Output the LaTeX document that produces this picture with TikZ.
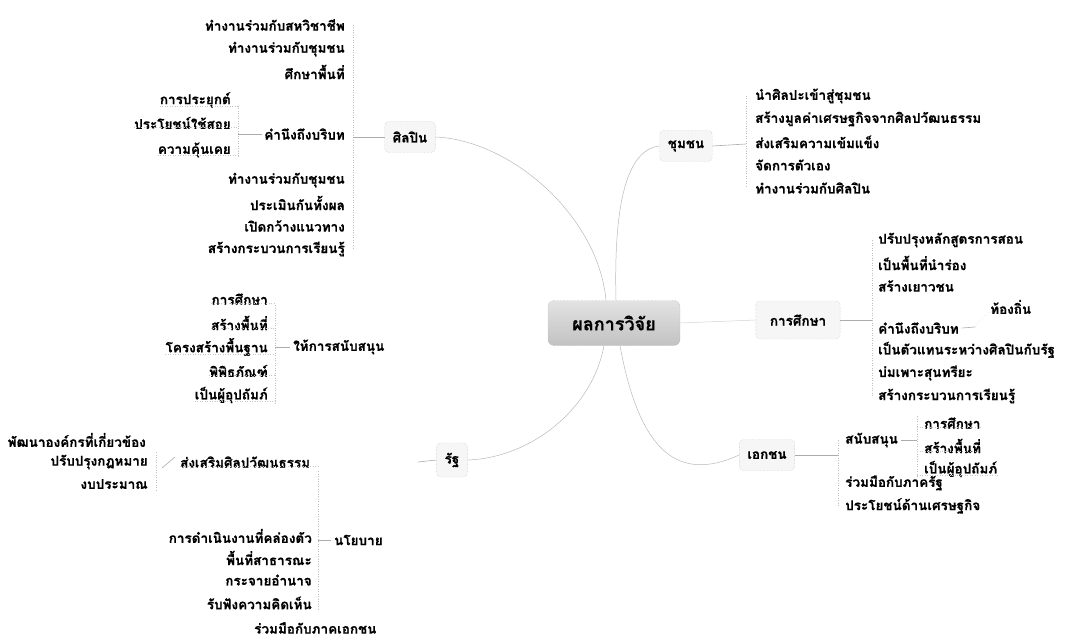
\documentclass[tikz,border=0pt]{standalone}
\usepackage{fontspec}
\newfontfamily\thaifont[Script=Thai,BoldFeatures={FakeBold=0.6}]{Loma}
\begin{document}
\begin{tikzpicture}[x=1pt,y=-1pt,
  leaf/.style={font=\thaifont\bfseries\fontsize{13.5}{15}\selectfont, inner sep=0pt, text=black},
  brbox/.style={font=\thaifont\bfseries\fontsize{13.5}{15}\selectfont, draw=gray!55, densely dotted, rounded corners=4pt, fill=gray!7, minimum height=31pt, inner xsep=8pt},
  centerbox/.style={font=\thaifont\bfseries\fontsize{18}{20}\selectfont, draw=gray!70, densely dotted, rounded corners=6pt, top color=gray!22, bottom color=gray!48, minimum width=132pt, minimum height=45pt},
  conn/.style={draw=gray!55, line width=0.5pt},
  spine/.style={draw=gray!50, dotted, line width=0.5pt},
  uline/.style={draw=gray!45, dotted, line width=0.5pt},
  tick/.style={draw=gray!65, line width=0.6pt}]
\useasboundingbox (0,0) rectangle (1076,639);

% centre
\node[centerbox] (c) at (614,323) {ผลการวิจัย};

% main branch boxes
\node[brbox] (b1) at (410,137) {ศิลปิน};
\node[brbox] (b2) at (686,146) {ชุมชน};
\node[brbox, minimum height=38pt, inner xsep=14pt] (b3) at (798,320) {การศึกษา};
\node[brbox] (b4) at (767,455) {เอกชน};
\node[brbox, minimum height=34pt] (b5) at (452,460) {รัฐ};

% curves from centre
\draw[conn] (c.north) ++(-8,0) coordinate (c1) (c1) .. controls (598,215) and (510,140) .. (b1.east);
\draw[conn] (c.north) ++(2,0) coordinate (c2) (c2) .. controls (614,220) and (622,150) .. (b2.west);
\draw[conn, draw=gray!35] (c.east) -- (b3.west);
\draw[conn] (c.south) ++(-10,0) coordinate (c3) (c3) .. controls (592,410) and (530,458) .. (b5.east);
\draw[conn] (c.south) ++(6,0) coordinate (c4) (c4) .. controls (640,455) and (680,482) .. (b4.west);

% ---------- ศิลปิน ----------
\node[leaf,anchor=east] (a1) at (345,25) {ทำงานร่วมกับสหวิชาชีพ};
\node[leaf,anchor=east] (a2) at (345,49) {ทำงานร่วมกับชุมชน};
\node[leaf,anchor=east] (a3) at (345,72) {ศึกษาพื้นที่};
\node[leaf,anchor=east] (a4) at (345,134) {คำนึงถึงบริบท};
\node[leaf,anchor=east] (a5) at (345,180) {ทำงานร่วมกับชุมชน};
\node[leaf,anchor=east] (a6) at (345,203) {ประเมินกันทั้งผล};
\node[leaf,anchor=east] (a7) at (345,226) {เปิดกว้างแนวทาง};
\node[leaf,anchor=east] (a8) at (345,249) {สร้างกระบวนการเรียนรู้};
\coordinate (sa1) at (353,25);
\coordinate (sa2) at (353,249);
\coordinate (sa0) at (353,137);
\draw[spine] (sa1) -- (sa2);
\draw[tick] (sa0) -- (b1.west);

\node[leaf,anchor=east] (a41) at (231,100) {การประยุกต์};
\node[leaf,anchor=east] (a42) at (231,123) {ประโยชน์ใช้สอย};
\node[leaf,anchor=east] (a43) at (231,150) {ความคุ้นเคย};
\coordinate (sb1) at (238,106);
\coordinate (sb2) at (238,158);
\coordinate (sb0) at (238,134);
\draw[spine] (sb1) -- (sb2);
\draw[tick] (sb0) -- ([xshift=-2pt]a4.west);
\foreach \n in {a41,a42,a43} \draw[uline] ([yshift=2pt]\n.south west) -- ([yshift=2pt]\n.south -| sb0);

% ---------- ชุมชน ----------
\node[leaf,anchor=west] (d1) at (755,96) {นำศิลปะเข้าสู่ชุมชน};
\node[leaf,anchor=west] (d2) at (755,119) {สร้างมูลค่าเศรษฐกิจจากศิลปวัฒนธรรม};
\node[leaf,anchor=west] (d3) at (755,142) {ส่งเสริมความเข้มแข็ง};
\node[leaf,anchor=west] (d4) at (755,165) {จัดการตัวเอง};
\node[leaf,anchor=west] (d5) at (755,188) {ทำงานร่วมกับศิลปิน};
\coordinate (sd1) at (746,96);
\coordinate (sd2) at (746,188);
\coordinate (sd0) at (746,144);
\draw[spine] (sd1) -- (sd2);
\draw[tick] (b2.east) -- (sd0);

% ---------- การศึกษา ----------
\node[leaf,anchor=west] (e1) at (878,240) {ปรับปรุงหลักสูตรการสอน};
\node[leaf,anchor=west] (e2) at (878,263) {เป็นพื้นที่นำร่อง};
\node[leaf,anchor=west] (e3) at (878,286) {สร้างเยาวชน};
\node[leaf,anchor=west] (e4) at (878,328) {คำนึงถึงบริบท};
\node[leaf,anchor=west] (e5) at (878,350) {เป็นตัวแทนระหว่างศิลปินกับรัฐ};
\node[leaf,anchor=west] (e6) at (878,373) {บ่มเพาะสุนทรียะ};
\node[leaf,anchor=west] (e7) at (878,396) {สร้างกระบวนการเรียนรู้};
\node[leaf,anchor=west] (e41) at (990,307) {ท้องถิ่น};
\coordinate (se1) at (872,240);
\coordinate (se2) at (872,396);
\coordinate (se0) at (872,320);
\draw[spine] (se1) -- (se2);
\draw[tick] (b3.east) -- (se0);
\coordinate (se4) at (975,327);
\draw[tick] ([xshift=3pt]e4.east) -- (se4);
\draw[uline] (se4) .. controls (980,320) and (983,316) .. ([yshift=2pt]e41.south west) -- ([yshift=2pt]e41.south east);

% ---------- เอกชน ----------
\node[leaf,anchor=west] (f1) at (845,440) {สนับสนุน};
\node[leaf,anchor=west] (f2) at (845,483) {ร่วมมือกับภาครัฐ};
\node[leaf,anchor=west] (f3) at (845,506) {ประโยชน์ด้านเศรษฐกิจ};
\coordinate (sf1) at (838,440);
\coordinate (sf2) at (838,506);
\coordinate (sf0) at (838,455);
\draw[spine] (sf1) -- (sf2);
\draw[tick] (b4.east) -- (sf0);
\node[leaf,anchor=west] (f11) at (924,423) {การศึกษา};
\node[leaf,anchor=west] (f12) at (924,446) {สร้างพื้นที่};
\node[leaf,anchor=west] (f13) at (924,469) {เป็นผู้อุปถัมภ์};
\coordinate (sg1) at (917,416);
\coordinate (sg2) at (917,477);
\coordinate (sg0) at (917,440);
\draw[spine] (sg1) -- (sg2);
\draw[tick] ([xshift=3pt]f1.east) -- (sg0);
\foreach \n in {f11,f12,f13} \draw[uline] ([yshift=2pt]\n.south -| sg0) -- ([yshift=2pt]\n.south east);

% ---------- รัฐ ----------
\node[leaf,anchor=west] (g1) at (293,347) {ให้การสนับสนุน};
\node[leaf,anchor=west] (g2) at (180,462) {ส่งเสริมศิลปวัฒนธรรม};
\node[leaf,anchor=west] (g3) at (334,540) {นโยบาย};
\node[leaf,anchor=west] (g4) at (254,628) {ร่วมมือกับภาคเอกชน};
\coordinate (sr0) at (418,462);
\draw[tick] (b5.west) -- (sr0);

\node[leaf,anchor=east] (h1) at (268,299) {การศึกษา};
\node[leaf,anchor=east] (h2) at (268,323) {สร้างพื้นที่};
\node[leaf,anchor=east] (h3) at (268,347) {โครงสร้างพื้นฐาน};
\node[leaf,anchor=east] (h4) at (268,371) {พิพิธภัณฑ์};
\node[leaf,anchor=east] (h5) at (268,395) {เป็นผู้อุปถัมภ์};
\coordinate (sh1) at (275,305);
\coordinate (sh2) at (275,403);
\coordinate (sh0) at (275,347);
\draw[spine] (sh1) -- (sh2);
\draw[tick] (sh0) -- ([xshift=-3pt]g1.west);
\foreach \n in {h1,h2,h3,h4,h5} \draw[uline] ([yshift=2pt]\n.south west) -- ([yshift=2pt]\n.south -| sh0);

\node[leaf,anchor=east] (i1) at (146,440) {พัฒนาองค์กรที่เกี่ยวข้อง};
\node[leaf,anchor=east] (i2) at (148,462) {ปรับปรุงกฎหมาย};
\node[leaf,anchor=east] (i3) at (148,484) {งบประมาณ};
\coordinate (si1) at (156,452);
\coordinate (si2) at (156,490);
\coordinate (si0) at (156,468);
\draw[spine] (si1) -- (si2);
\draw[tick] ([xshift=6pt]si0) -- ([xshift=-5pt,yshift=5pt]g2.west);
\coordinate (sj1) at (318,471);
\draw[uline] ([yshift=2pt]g2.south west) -- ([yshift=2pt]g2.south -| sj1);

\node[leaf,anchor=east] (j1) at (312,536) {การดำเนินงานที่คล่องตัว};
\node[leaf,anchor=east] (j2) at (312,558) {พื้นที่สาธารณะ};
\node[leaf,anchor=east] (j3) at (312,580) {กระจายอำนาจ};
\node[leaf,anchor=east] (j4) at (312,603) {รับฟังความคิดเห็น};
\coordinate (sj2) at (318,610);
\coordinate (sj0) at (318,540);
\draw[spine] (sj1) -- (sj2);
\draw[tick] (sj0) -- ([xshift=-3pt]g3.west);
\end{tikzpicture}
\end{document}
